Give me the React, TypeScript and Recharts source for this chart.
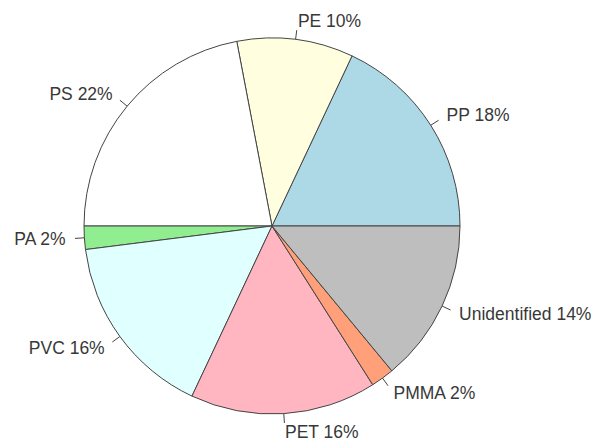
import React from "react";
import { PieChart, Pie, Cell } from "recharts";

// Polymer shares, in R pie order (counter-clockwise from 3 o'clock)
const polymers = ["PP", "PE", "PS", "PA", "PVC", "PET", "PMMA", "Unidentified"];
const shares = [18, 10, 22, 2, 16, 16, 2, 14];
const sliceColors = ["#ADD8E6", "#FFFFE0", "#FFFFFF", "#90EE90", "#E0FFFF", "#FFB6C1", "#FFA07A", "#BEBEBE"];

const data = polymers.map((name, i) => ({ name, value: shares[i] }));

const RADIAN = Math.PI / 180;

const renderLabel = (props: any) => {
    const { cx, cy, midAngle, outerRadius, index } = props;
    const cos = Math.cos(-midAngle * RADIAN);
    const sin = Math.sin(-midAngle * RADIAN);
    const x1 = cx + outerRadius * cos;
    const y1 = cy + outerRadius * sin;
    const x2 = cx + outerRadius * 1.05 * cos;
    const y2 = cy + outerRadius * 1.05 * sin;
    const tx = cx + outerRadius * 1.1 * cos;
    const ty = cy + outerRadius * 1.1 * sin;
    return (
        <g key={`lbl-${index}`}>
            <line x1={x1} y1={y1} x2={x2} y2={y2} stroke="#444" strokeWidth={1} />
            <text
                x={tx}
                y={ty}
                textAnchor={cos < 0 ? "end" : "start"}
                dominantBaseline="central"
                fill="#383838"
                fontSize={17.5}
                fontFamily="'Liberation Sans', Arial, sans-serif"
            >
                {`${data[index].name} ${data[index].value}%`}
            </text>
        </g>
    );
};

export default function App() {
    return (
        <div style={{ position: "absolute", left: 0, top: 0, width: 595, height: 441, background: "#fff" }}>
            <PieChart width={595} height={441} margin={{ top: 0, right: 0, bottom: 0, left: 0 }}>
                <Pie
                    data={data}
                    dataKey="value"
                    nameKey="name"
                    cx={272}
                    cy={226}
                    outerRadius={188}
                    startAngle={0}
                    endAngle={360}
                    stroke="#444"
                    strokeWidth={1}
                    label={renderLabel}
                    labelLine={false}
                    isAnimationActive={false}
                >
                    {data.map((d, i) => (
                        <Cell key={d.name} fill={sliceColors[i]} />
                    ))}
                </Pie>
            </PieChart>
        </div>
    );
}
